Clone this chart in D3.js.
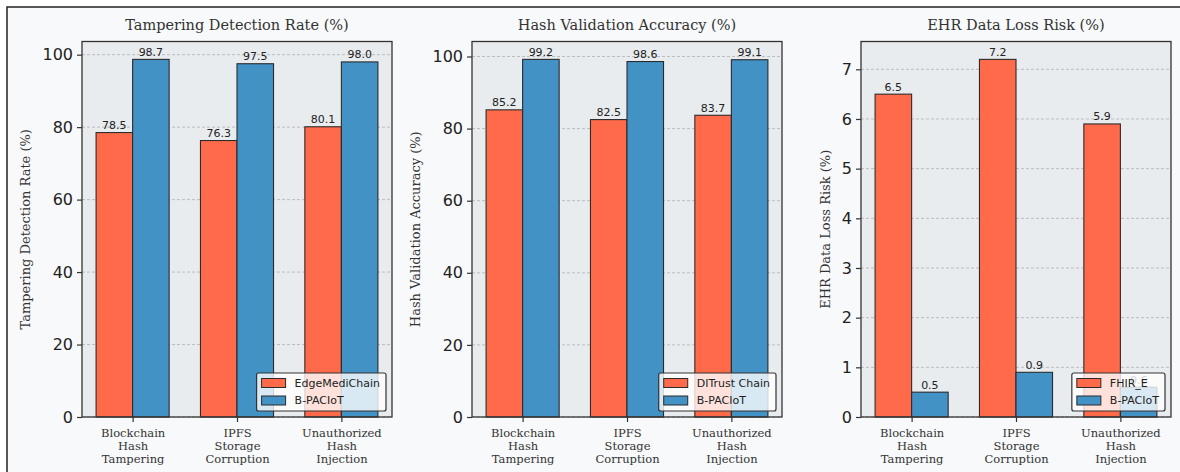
<!DOCTYPE html>
<html>
<head>
<meta charset="utf-8">
<script src="https://cdn.jsdelivr.net/npm/d3@7"></script>
<style>
  html, body { margin: 0; padding: 0; background: #ffffff; }
  svg { display: block; }
</style>
</head>
<body>
<svg id="chart" width="1180" height="472"></svg>
<script>
// Attack scenarios shared by all three panels
const categories = ["Blockchain Hash Tampering", "IPFS Storage Corruption", "Unauthorized Hash Injection"];

// Panel 1: tampering detection rate (%)
const detectionBaseline = [78.5, 76.3, 80.1];
const detectionProposed = [98.7, 97.5, 98.0];

// Panel 2: hash validation accuracy (%)
const validationBaseline = [85.2, 82.5, 83.7];
const validationProposed = [99.2, 98.6, 99.1];

// Panel 3: EHR data loss risk (%)
const lossBaseline = [6.5, 7.2, 5.9];
const lossProposed = [0.5, 0.9, 0.6];

const panelTitles = ["Tampering Detection Rate (%)", "Hash Validation Accuracy (%)", "EHR Data Loss Risk (%)"];
const baselineNames = ["EdgeMediChain", "DITrust Chain", "FHIR_E"];
const proposedName = "B-PACIoT";
const yTicks1 = [0, 20, 40, 60, 80, 100];
const yTicks2 = [0, 20, 40, 60, 80, 100];
const yTicks3 = [0, 1, 2, 3, 4, 5, 6, 7];

const panels = [
  { title: panelTitles[0], base: detectionBaseline, prop: detectionProposed, baseName: baselineNames[0], ticks: yTicks1 },
  { title: panelTitles[1], base: validationBaseline, prop: validationProposed, baseName: baselineNames[1], ticks: yTicks2 },
  { title: panelTitles[2], base: lossBaseline, prop: lossProposed, baseName: baselineNames[2], ticks: yTicks3 }
];

const COLOR_BASE = "#ff6b4a";
const COLOR_PROP = "#4292c6";
const EDGE = "#2b2b2b";
const SERIF = "'DejaVu Serif', serif";
const SANS = "'DejaVu Sans', sans-serif";

const svg = d3.select("#chart");

// figure background and frame
svg.append("rect").attr("x", 7).attr("y", 7).attr("width", 1200).attr("height", 500)
  .attr("fill", "#f8f9fa").attr("stroke", "#222").attr("stroke-width", 1.5);

const axLeft = [82, 472, 861];
const axW = 310, axTop = 41.5, axBottom = 417;
const barW = 0.35;

panels.forEach((p, k) => {
  const g = svg.append("g").attr("transform", `translate(${axLeft[k]},0)`);
  const maxV = d3.max(p.base.concat(p.prop));
  const y = d3.scaleLinear().domain([0, maxV * 1.05]).range([axBottom, axTop]);
  const x = d3.scaleLinear().domain([-0.485, 2.485]).range([0, axW]);

  // axes face
  g.append("rect").attr("x", 0).attr("y", axTop).attr("width", axW).attr("height", axBottom - axTop)
    .attr("fill", "#e9ecef");

  // horizontal dashed grid
  g.append("g").selectAll("line").data(p.ticks).join("line")
    .attr("x1", 0).attr("x2", axW)
    .attr("y1", d => y(d)).attr("y2", d => y(d))
    .attr("stroke", "#b0b0b0").attr("stroke-width", 0.8).attr("stroke-dasharray", "3,2");

  // bars with value labels
  const series = [
    { vals: p.base, off: -barW / 2, color: COLOR_BASE },
    { vals: p.prop, off: barW / 2, color: COLOR_PROP }
  ];
  series.forEach(s => {
    g.append("g").selectAll("rect").data(s.vals).join("rect")
      .attr("x", (d, i) => x(i + s.off - barW / 2))
      .attr("width", x(barW) - x(0))
      .attr("y", d => y(d))
      .attr("height", d => y(0) - y(d))
      .attr("fill", s.color).attr("stroke", EDGE).attr("stroke-width", 1.1);
    g.append("g").selectAll("text").data(s.vals).join("text")
      .attr("x", (d, i) => x(i + s.off))
      .attr("y", d => y(d) - 3.5)
      .attr("text-anchor", "middle")
      .attr("font-family", SANS).attr("font-size", 11).attr("fill", "#222")
      .text(d => d.toFixed(1));
  });

  // y axis
  const yAxis = d3.axisLeft(y).tickValues(p.ticks).tickSize(5).tickPadding(4).tickFormat(d3.format("d"));
  const ya = g.append("g").call(yAxis);
  ya.select(".domain").remove();
  ya.selectAll(".tick line").attr("stroke", "#333").attr("stroke-width", 1.2);
  ya.selectAll(".tick text").attr("font-family", SANS).attr("font-size", 16).attr("fill", "#222");

  // x axis with multi-line category labels
  const xAxis = d3.axisBottom(x).tickValues([0, 1, 2]).tickSize(5).tickPadding(3).tickFormat(() => "");
  const xa = g.append("g").attr("transform", `translate(0,${axBottom})`).call(xAxis);
  xa.select(".domain").remove();
  xa.selectAll(".tick line").attr("stroke", "#333").attr("stroke-width", 1.2);
  xa.selectAll(".tick text").each(function (d) {
    const t = d3.select(this).attr("font-family", SERIF).attr("font-size", 11.5).attr("fill", "#333").attr("y", 0).attr("dy", null);
    categories[d].split(" ").forEach((w, li) => {
      t.append("tspan").attr("x", 0).attr("y", 20 + li * 13).text(w);
    });
  });

  // spines
  g.append("rect").attr("x", 0).attr("y", axTop).attr("width", axW).attr("height", axBottom - axTop)
    .attr("fill", "none").attr("stroke", "#333").attr("stroke-width", 1.3);

  // title
  g.append("text").attr("x", axW / 2).attr("y", 30).attr("text-anchor", "middle")
    .attr("font-family", SERIF).attr("font-size", 14.5).attr("fill", "#333").text(p.title);

  // y label
  const labX = k === 2 ? -36 : -57;
  g.append("text")
    .attr("transform", `translate(${labX},${(axTop + axBottom) / 2}) rotate(-90)`)
    .attr("text-anchor", "middle").attr("dominant-baseline", "central")
    .attr("font-family", SERIF).attr("font-size", 13).attr("fill", "#333").text(p.title);

  // legend (bottom right, semi-transparent)
  const names = [p.baseName, proposedName];
  const colors = [COLOR_BASE, COLOR_PROP];
  const lg = g.append("g");
  const tmp = lg.append("g");
  const texts = names.map(n => tmp.append("text").attr("font-family", SANS).attr("font-size", 11).text(n));
  const tw = d3.max(texts, t => t.node().getComputedTextLength());
  tmp.remove();
  const lw = 5 + 24 + 9 + tw + 6, lh = 38;
  const lx = axW - 6 - lw, ly = axBottom - 6 - lh;
  lg.append("rect").attr("x", lx).attr("y", ly).attr("width", lw).attr("height", lh).attr("rx", 2)
    .attr("fill", "#ffffff").attr("fill-opacity", 0.8).attr("stroke", "#333").attr("stroke-width", 1.2);
  names.forEach((n, i) => {
    const cy = ly + 10 + i * 17.5;
    lg.append("rect").attr("x", lx + 5).attr("y", cy - 4.5).attr("width", 24).attr("height", 9)
      .attr("fill", colors[i]).attr("stroke", EDGE).attr("stroke-width", 1);
    lg.append("text").attr("x", lx + 38).attr("y", cy).attr("dominant-baseline", "central")
      .attr("font-family", SANS).attr("font-size", 11).attr("fill", "#222").text(n);
  });
});
</script>
</body>
</html>
